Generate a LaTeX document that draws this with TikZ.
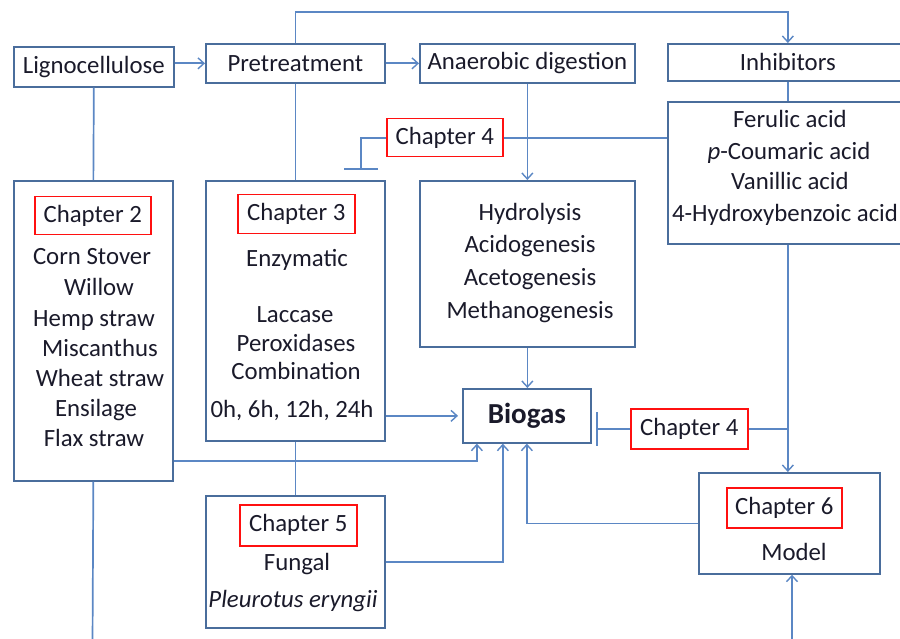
\documentclass[tikz,border=0pt]{standalone}
\usepackage{fontspec}
\setmainfont{Carlito}
\usetikzlibrary{arrows.meta,calc}
\definecolor{boxblue}{HTML}{4A6D9C}
\definecolor{lineblue}{HTML}{5B87C4}
\definecolor{chapred}{HTML}{FF1010}
\definecolor{txtc}{HTML}{1A1A2A}
\begin{document}
\begin{tikzpicture}[x=1pt,y=-1pt,
  box/.style={draw=boxblue, line width=1.7pt, anchor=north west, inner sep=0pt, text=txtc, font=\fontsize{24.8}{29}\selectfont},
  chap/.style={draw=chapred, line width=1.5pt, anchor=north west, inner sep=0pt, text=txtc, font=\fontsize{24.8}{29}\selectfont},
  txt/.style={anchor=base, inner sep=0pt, text=txtc, font=\fontsize{24.8}{29}\selectfont},
  conn/.style={draw=lineblue, line width=1.7pt},
  arr/.style={conn, -{Straight Barb[length=6pt,width=11pt,line width=1.4pt]}},
  inhib/.style={conn, -{Bar[width=34pt,line width=1.7pt]}}
]
\useasboundingbox (0,0) rectangle (900,639);

% single-line boxes
\node[box, minimum width=160pt, minimum height=40pt] (ligno) at (13,46) {Lignocellulose};
\node[box, minimum width=179pt, minimum height=39pt] (pre) at (205,43) {Pretreatment};
\node[box, minimum width=215pt, minimum height=39pt] (ad) at (419,43) {Anaerobic digestion};
\node[box, minimum width=240pt, minimum height=37pt] (inh) at (667,43) {Inhibitors};

% multi-line boxes
\node[box, minimum width=240pt, minimum height=142pt] (acid) at (667,101) {};
\node[box, minimum width=159pt, minimum height=300pt] (ch2) at (13,180) {};
\node[box, minimum width=179pt, minimum height=260pt] (ch3) at (205,180) {};
\node[box, minimum width=215pt, minimum height=166pt] (hyd) at (419,180) {};
\node[box, minimum width=179pt, minimum height=132pt] (ch5) at (205,495) {};
\node[box, minimum width=181pt, minimum height=101pt] (ch6) at (698,472) {};
\node[box, minimum width=128pt, minimum height=54pt, font=\fontsize{29}{34}\selectfont\bfseries] (bio) at (462,388) {Biogas};

% red chapter boxes
\node[chap, minimum width=116pt, minimum height=38pt] (c2) at (34,196) {Chapter 2};
\node[chap, minimum width=117pt, minimum height=39pt] (c3) at (237,194) {Chapter 3};
\node[chap, minimum width=116pt, minimum height=38pt] (c4a) at (386,118) {Chapter 4};
\node[chap, minimum width=117pt, minimum height=40pt] (c4b) at (630,408) {Chapter 4};
\node[chap, minimum width=117pt, minimum height=41pt] (c5) at (239,504) {Chapter 5};
\node[chap, minimum width=115pt, minimum height=40pt] (c6) at (726,487) {Chapter 6};

% texts: chapter 2
\node[txt] (t21) at (92,265) {Corn Stover};
\node[txt] (t22) at (99,295) {Willow};
\node[txt] (t23) at (94,326) {Hemp straw};
\node[txt] (t24) at (100,356) {Miscanthus};
\node[txt] (t25) at (100,386) {Wheat straw};
\node[txt] (t26) at (96,416) {Ensilage};
\node[txt] (t27) at (94,446) {Flax straw};
% chapter 3
\node[txt] (t31) at (297,267) {Enzymatic};
\node[txt] (t32) at (295,322) {Laccase};
\node[txt] (t33) at (296,351) {Peroxidases};
\node[txt] (t34) at (296,379) {Combination};
\node[txt] (t35) at (292,417) {0h, 6h, 12h, 24h};
% digestion stages
\node[txt] (h1) at (530,221) {Hydrolysis};
\node[txt] (h2) at (530,253) {Acidogenesis};
\node[txt] (h3) at (530,286) {Acetogenesis};
\node[txt] (h4) at (530,319) {Methanogenesis};
% acids
\node[txt] (a1) at (790,128) {Ferulic acid};
\node[txt] (a2) at (789,160) {\textit{p}-Coumaric acid};
\node[txt] (a3) at (790,190) {Vanillic acid};
\node[txt] (a4) at (785,222) {4-Hydroxybenzoic acid};
% chapter 5, 6
\node[txt] (f1) at (297,570) {Fungal};
\node[txt] (f2) at (293,607) {\textit{Pleurotus eryngii}};
\node[txt] (m1) at (794,560) {Model};

% connectors
\draw[arr] (pre.west -| ligno.east) -- (pre.west);
\draw[arr] (pre.east) -- (ad.west);
\draw[arr] (pre.north) -- ++(0,-31) -| (inh.north);
\draw[conn] (inh.south) -- (acid.north);
\draw[arr] (acid.south) -- (acid.south |- ch6.north);
\draw[conn] (ligno.south) -- (ch2.north);
\draw[conn] (pre.south) -- (ch3.north);
\draw[conn] (ch3.south) -- (ch5.north);
\coordinate (ch2end) at (92.5,645);
\draw[conn] (ch2.south) -- (ch2end);
\draw[arr] (ad.south) -- (hyd.north);
\draw[arr] (hyd.south) -- (hyd.south |- bio.north);
\draw[arr, shorten >=4pt] (bio.west -| ch3.east) -- (bio.west);
\draw[arr] ([yshift=-130pt]ch2.east) -| ([xshift=-50pt]bio.south);
\draw[arr] (ch5.east) -| ([xshift=-24pt]bio.south);
\draw[arr] (ch6.west) -| (bio.south);
\coordinate (botc) at (792,645);
\draw[arr] (botc) -- (botc |- ch6.south);
% chapter 4 inhibitions
\draw[conn] (c4a.east) -- (c4a.east -| acid.west);
\coordinate (t4) at (361,170);
\draw[inhib] (c4a.west) -| (t4);
\draw[conn] (c4b.east) -- (c4b.east -| acid.south);
\coordinate (b4) at (596,428);
\draw[inhib] (c4b.west) -- (c4b.west -| b4);
\end{tikzpicture}
\end{document}
